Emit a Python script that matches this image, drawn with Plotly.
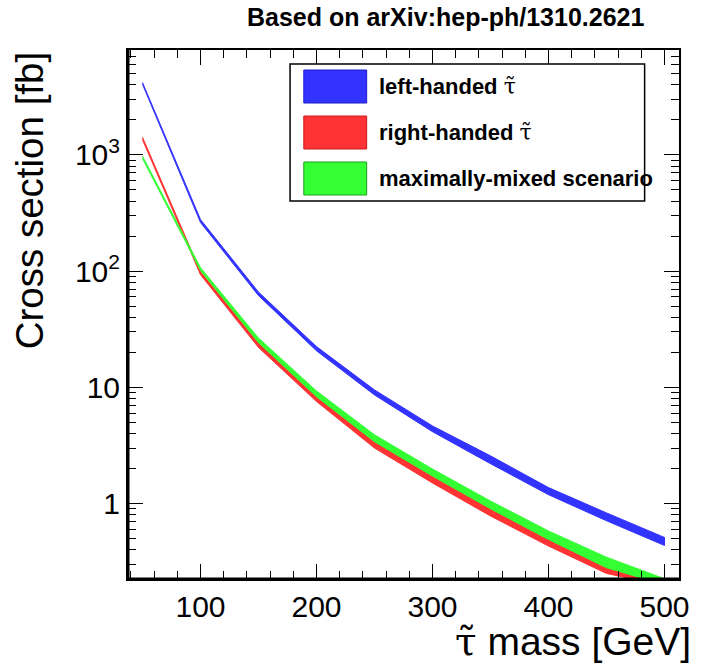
import plotly.graph_objects as go

# ---------------- data ----------------
mass = [50, 100, 150, 200, 250, 300, 350, 400, 450, 500]

left_lo = [4050, 262, 61.5, 20.6, 8.6, 4.15, 2.20, 1.19, 0.71, 0.435]
left_hi = [4200, 278, 66.0, 22.4, 9.5, 4.65, 2.57, 1.37, 0.83, 0.510]

right_lo = [1350, 93, 22.0, 7.55, 3.00, 1.50, 0.78, 0.43, 0.250, 0.195]
right_hi = [1420, 99, 24.5, 8.50, 3.45, 1.75, 0.93, 0.51, 0.290, 0.210]

mixed_lo = [930, 101, 24.2, 8.3, 3.40, 1.72, 0.90, 0.49, 0.28, 0.200]
mixed_hi = [975, 107, 26.5, 9.3, 3.90, 1.98, 1.05, 0.58, 0.345, 0.225]

series_names = ["left-handed", "right-handed", "maximally-mixed scenario"]
fill_colors = ["#3333ff", "#ff3333", "#33ff33"]
edge_colors = ["#1a1acc", "#cc1a1a", "#1aa01a"]

y_tickvals = [1, 10, 100, 1000]
y_ticktext = ["1", "10", "10<sup>2</sup>", "10<sup>3</sup>"]

title_text = "<b>Based on arXiv:hep-ph/1310.2621</b>"
TAU = "<span style='font-family:DejaVu Serif;font-weight:normal'>\u03c4\u0303</span>"

# ---------------- figure ----------------
W, H = 701, 665
L, R, T, B = 128, 12, 50, 86
PW, PH = W - L - R, H - T - B


def px(xp):
    return (xp - L) / PW


def py(yp):
    return (H - B - yp) / PH


fig = go.Figure()
bands = [(left_lo, left_hi), (right_lo, right_hi), (mixed_lo, mixed_hi)]
for (lo, hi), name, fc in zip(bands, series_names, fill_colors):
    fig.add_trace(go.Scatter(
        x=mass + mass[::-1],
        y=hi + lo[::-1],
        mode="lines",
        fill="toself",
        fillcolor=fc,
        line=dict(color=fc, width=1),
        name=name,
        showlegend=False,
        hoverinfo="skip",
    ))

minor_y = [k * 10 ** e for e in range(-1, 4) for k in range(2, 10)]

fig.update_layout(
    width=W, height=H,
    margin=dict(l=L, r=R, t=T, b=B),
    paper_bgcolor="white", plot_bgcolor="white",
    font=dict(family="Liberation Sans, Arial", color="black"),
    showlegend=False,
    xaxis=dict(
        range=[37.5, 512.5],
        tickmode="linear", tick0=0, dtick=100,
        ticks="inside", ticklen=15, tickwidth=1, tickcolor="black",
        showline=True, linecolor="black", linewidth=2, mirror="allticks",
        showgrid=False, zeroline=False,
        tickfont=dict(size=30, family="Liberation Sans, Arial"),
        minor=dict(ticks="inside", ticklen=8, tickwidth=1, tickcolor="black",
                   tick0=0, dtick=20, showgrid=False),
    ),
    yaxis=dict(
        type="log",
        range=[-0.65, 3.903],
        tickmode="array", tickvals=y_tickvals, ticktext=y_ticktext,
        ticks="inside", ticklen=15, tickwidth=1, tickcolor="black",
        showline=True, linecolor="black", linewidth=2, mirror="allticks",
        showgrid=False, zeroline=False,
        tickfont=dict(size=30, family="Liberation Sans, Arial"),
        minor=dict(ticks="inside", ticklen=8, tickwidth=1, tickcolor="black",
                   tickmode="array", tickvals=minor_y, showgrid=False),
    ),
)

shapes = []
# thicker left / bottom frame
shapes.append(dict(type="line", xref="paper", yref="paper", x0=0, x1=0, y0=0, y1=1,
                   line=dict(color="black", width=3)))
shapes.append(dict(type="line", xref="paper", yref="paper", x0=0, x1=1, y0=0, y1=0,
                   line=dict(color="black", width=3)))
# legend frame
shapes.append(dict(type="rect", xref="paper", yref="paper",
                   x0=px(293), x1=px(654), y0=py(201), y1=py(64),
                   line=dict(color="black", width=1.5), fillcolor="white", layer="above"))
annotations = []
row_top = [70, 116, 162]
for i, (name, fc, ec) in enumerate(zip(series_names, fill_colors, edge_colors)):
    y0p = row_top[i]
    shapes.append(dict(type="rect", xref="paper", yref="paper",
                       x0=px(307), x1=px(371), y0=py(y0p + 33), y1=py(y0p),
                       line=dict(color=ec, width=1), fillcolor=fc, layer="above"))
    label = "<b>" + name + "</b>"
    if i < 2:
        label += " " + TAU
    annotations.append(dict(xref="paper", yref="paper", x=px(382), y=py(y0p + 16.5),
                            xanchor="left", yanchor="middle", showarrow=False,
                            text=label, font=dict(size=22, color="black")))

annotations.append(dict(xref="paper", yref="paper", x=px(451), y=py(17),
                        xanchor="center", yanchor="middle", showarrow=False,
                        text=title_text, font=dict(size=25, color="black")))
annotations.append(dict(xref="paper", yref="paper", x=px(28), y=1.0,
                        xanchor="center", yanchor="top", showarrow=False, textangle=-90,
                        text="Cross section [fb]", font=dict(size=38.5, color="black")))
annotations.append(dict(xref="paper", yref="paper", x=1.0, y=py(641), xshift=14,
                        xanchor="right", yanchor="middle", showarrow=False,
                        text="<span style='font-family:DejaVu Serif'>\u03c4\u0303</span> mass [GeV]",
                        font=dict(size=39, color="black")))

fig.update_layout(shapes=shapes, annotations=annotations)
fig.write_html("out.html", config={"displayModeBar": False},
               post_script="document.body.style.margin='0';document.body.style.padding='0';")
